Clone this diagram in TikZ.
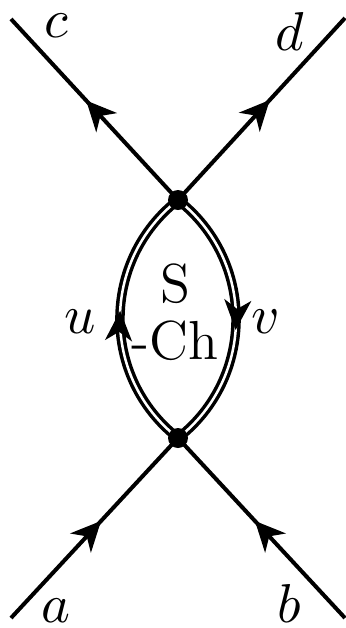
\documentclass[tikz,border=0pt]{standalone}
\usetikzlibrary{arrows.meta,decorations.markings}
\begin{document}
\begin{tikzpicture}[x=0.2pt,y=-0.2pt,
  every node/.style={inner sep=0pt,font=\fontsize{11}{11.4}\selectfont},
  fermion/.style={line width=0.8pt,postaction={decorate},
    decoration={markings,mark=at position #1 with {\arrow{Stealth[length=6pt,width=5.6pt,inset=1.8pt]}}}},
  fermion/.default=0.54,
  dblline/.style={double,line width=0.7pt,double distance=0.5pt},
  arcarrow/.style={decorate,
    decoration={markings,mark=at position #1 with {\arrow[line width=0.6pt]{Stealth[length=6pt,width=5.4pt,inset=1.8pt]}}}},
  vdot/.style={fill=black}
]
\useasboundingbox (0,0) rectangle (346,628);
\coordinate (T) at (178,200);
\coordinate (B) at (178,438);
\coordinate (cend) at (11,19);
\coordinate (dend) at (345,18);
\coordinate (aend) at (11,618);
\coordinate (bend) at (345,618);
% external lines
\draw[fermion=0.55] (T) -- (cend);
\draw[fermion=0.55] (T) -- (dend);
\draw[fermion=0.54] (aend) -- (B);
\draw[fermion=0.54] (bend) -- (B);
% double arcs
\draw[dblline] (B) .. controls (100.6,377.5) and (100.6,260.5) .. (T);
\draw[dblline] (T) .. controls (255.4,260.5) and (255.4,377.5) .. (B);
\path[arcarrow=0.53] (B) .. controls (100.6,377.5) and (100.6,260.5) .. (T);
\path[arcarrow=0.54] (T) .. controls (255.4,260.5) and (255.4,377.5) .. (B);
% vertices
\fill[vdot] (T) circle (10);
\fill[vdot] (B) circle (10);
% labels
\node[anchor=base] (lc) at (56,37) {$c$};
\node[anchor=base] (ld) at (290,50) {$d$};
\node[anchor=base] (la) at (56,622) {$a$};
\node[anchor=base] (lb) at (289,622) {$b$};
\node[anchor=base] (lu) at (80,333) {$u$};
\node[anchor=base] (lv) at (266,333) {$v$};
\node[align=center] (sch) at (175,312.5) {S\\-Ch};
\end{tikzpicture}
\end{document}
